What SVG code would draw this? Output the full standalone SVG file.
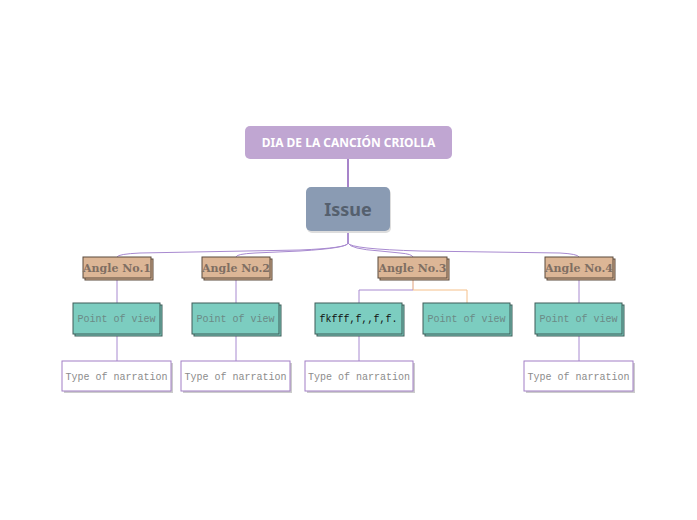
<svg xmlns="http://www.w3.org/2000/svg" width="697" height="520" viewBox="0 0 697 520">
<defs>
<style>
.ang rect{fill:#dcb696;stroke:#5b4a3c;stroke-width:1}
.ang text{font-family:"DejaVu Serif",serif;font-weight:bold;font-size:11px;fill:#7f6e62;text-anchor:middle}
.pov rect{fill:#7ccdc0;stroke:#3e5d58;stroke-width:1}
.pov text{font-family:"Liberation Mono","DejaVu Sans Mono",monospace;font-size:10px;fill:#6b8a86;text-anchor:middle}
.typ rect{fill:#fff;stroke:#a27fc5;stroke-width:1}
.typ text{font-family:"Liberation Mono","DejaVu Sans Mono",monospace;font-size:10px;fill:#8c8c8c;text-anchor:middle}
.sh{fill:#666;stroke:none}
.c{fill:none;stroke:#a88ad0;stroke-width:1}
</style>
</defs>
<g id="connectors">
<line x1="348" y1="159" x2="348" y2="187" stroke="#8a5bb8" stroke-width="1.5"/>
<path class="c" d="M348 231 V243 Q348 248 300 250 L140 253 Q118 254 117 257"/>
<path class="c" d="M348 231 V243 Q348 248 300 251 L255 253 Q236 254 236 257"/>
<path class="c" d="M348 231 V243 Q350 249 380 251 L400 253 Q412 254 413 257"/>
<path class="c" d="M348 231 V243 Q350 249 420 251 L560 253 Q578 254 579 257"/>
<line class="c" x1="117" y1="278" x2="117" y2="303"/>
<line class="c" x1="117" y1="334" x2="117" y2="361"/>
<line class="c" x1="236" y1="278" x2="236" y2="303"/>
<line class="c" x1="236" y1="334" x2="236" y2="361"/>
<line x1="413" y1="278" x2="413" y2="290" stroke="#e0a07a"/>
<path class="c" d="M413 290 H359 V303"/>
<path d="M413 290 H467 V303" fill="none" stroke="#f5c08a"/>
<line class="c" x1="359" y1="334" x2="359" y2="361"/>
<line class="c" x1="579" y1="278" x2="579" y2="303"/>
<line class="c" x1="579" y1="334" x2="579" y2="361"/>
</g>
<g id="title">
<rect x="245" y="126" width="207" height="33" rx="5" fill="#c0a6d2"/>
<text x="348.5" y="147" font-family="'Noto Sans',sans-serif" font-weight="bold" font-size="12" fill="#fff" text-anchor="middle">DIA DE LA CANCIÓN CRIOLLA</text>
</g>
<g id="issue">
<rect x="307" y="189" width="84" height="44" rx="5" fill="#ddd"/>
<rect x="306" y="187" width="84" height="44" rx="5" fill="#8a9bb3"/>
<text x="348" y="216" font-family="'Noto Sans',sans-serif" font-weight="bold" font-size="18" fill="#55606e" text-anchor="middle">Issue</text>
</g>
<g id="angle1" class="ang"><rect class="sh" x="85" y="259" width="68" height="21"/><rect x="83" y="257" width="68" height="21"/><text x="117" y="272">Angle No.1</text></g>
<g id="angle2" class="ang"><rect class="sh" x="204" y="259" width="68" height="21"/><rect x="202" y="257" width="68" height="21"/><text x="236" y="272">Angle No.2</text></g>
<g id="angle3" class="ang"><rect class="sh" x="380" y="259" width="69" height="21"/><rect x="378" y="257" width="69" height="21"/><text x="412.5" y="272">Angle No.3</text></g>
<g id="angle4" class="ang"><rect class="sh" x="547" y="259" width="68" height="21"/><rect x="545" y="257" width="68" height="21"/><text x="579" y="272">Angle No.4</text></g>
<g id="pov1" class="pov"><rect class="sh" x="75" y="305" width="87" height="31"/><rect x="73" y="303" width="87" height="31"/><text x="116.5" y="322">Point of view</text></g>
<g id="pov2" class="pov"><rect class="sh" x="194" y="305" width="87" height="31"/><rect x="192" y="303" width="87" height="31"/><text x="235.5" y="322">Point of view</text></g>
<g id="pov3a" class="pov"><rect class="sh" x="317" y="305" width="87" height="31"/><rect x="315" y="303" width="87" height="31"/><text x="358.5" y="322" style="fill:#111">fkfff,f,,f,f.</text></g>
<g id="pov3b" class="pov"><rect class="sh" x="425" y="305" width="87" height="31"/><rect x="423" y="303" width="87" height="31"/><text x="466.5" y="322">Point of view</text></g>
<g id="pov4" class="pov"><rect class="sh" x="537" y="305" width="87" height="31"/><rect x="535" y="303" width="87" height="31"/><text x="578.5" y="322">Point of view</text></g>
<g id="type1" class="typ"><rect x="64" y="363" width="109" height="30" style="fill:#ccc;stroke:none"/><rect x="62" y="361" width="109" height="30"/><text x="116.5" y="380">Type of narration</text></g>
<g id="type2" class="typ"><rect x="183" y="363" width="109" height="30" style="fill:#ccc;stroke:none"/><rect x="181" y="361" width="109" height="30"/><text x="235.5" y="380">Type of narration</text></g>
<g id="type3" class="typ"><rect x="307" y="363" width="108" height="30" style="fill:#ccc;stroke:none"/><rect x="305" y="361" width="108" height="30"/><text x="359" y="380">Type of narration</text></g>
<g id="type4" class="typ"><rect x="526" y="363" width="109" height="30" style="fill:#ccc;stroke:none"/><rect x="524" y="361" width="109" height="30"/><text x="578.5" y="380">Type of narration</text></g>
</svg>
